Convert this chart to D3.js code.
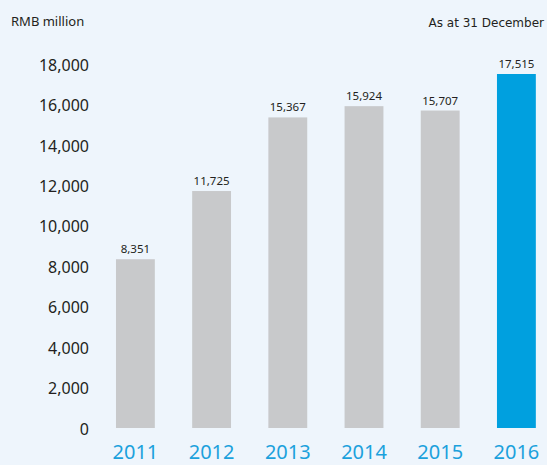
<!DOCTYPE html>
<html>
<head>
<meta charset="utf-8">
<script src="https://cdn.jsdelivr.net/npm/d3@7"></script>
<style>
  html, body { margin: 0; padding: 0; background: #eef5fc; }
  svg { display: block; }
</style>
</head>
<body>
<div id="chart"></div>
<script>
// data
const years = ["2011", "2012", "2013", "2014", "2015", "2016"];
const values = [8351, 11725, 15367, 15924, 15707, 17515];
const yTicks = [0, 2000, 4000, 6000, 8000, 10000, 12000, 14000, 16000, 18000];

const W = 547, H = 465;
const svg = d3.select("#chart").append("svg")
    .attr("width", W)
    .attr("height", H);

svg.append("rect")
    .attr("width", W).attr("height", H)
    .attr("fill", "#eef5fc");

const x = d3.scaleBand()
    .domain(years)
    .range([97.3, 554.5])
    .paddingInner(0.49)
    .paddingOuter(0.245);

const y = d3.scaleLinear()
    .domain([0, 18000])
    .range([428, 64.2]);

const fmt = d3.format(",");

// y axis (labels only)
const yAxis = svg.append("g")
    .attr("transform", "translate(89,0)")
    .call(d3.axisLeft(y).tickValues(yTicks).tickFormat(fmt).tickSize(0).tickPadding(0));
yAxis.select(".domain").remove();
yAxis.selectAll("text")
    .attr("font-family", "'Noto Sans', sans-serif")
    .attr("font-size", 16)
    .attr("fill", "#231f20")
    .attr("dy", "0.38em");

// bars
svg.selectAll(".bar")
    .data(values)
    .join("rect")
    .attr("class", "bar")
    .attr("x", (d, i) => x(years[i]))
    .attr("y", d => y(d))
    .attr("width", x.bandwidth())
    .attr("height", d => y(0) - y(d))
    .attr("fill", (d, i) => i === years.length - 1 ? "#00a0df" : "#c8c9cb");

// value labels
svg.selectAll(".val")
    .data(values)
    .join("text")
    .attr("class", "val")
    .attr("x", (d, i) => x(years[i]) + x.bandwidth() / 2)
    .attr("y", d => y(d) - 6)
    .attr("text-anchor", "middle")
    .attr("font-family", "'Noto Sans', sans-serif")
    .attr("font-size", 11.5)
    .attr("fill", "#231f20")
    .text(d => fmt(d));

// x axis (year labels)
const xAxis = svg.append("g")
    .attr("transform", "translate(0,440)")
    .call(d3.axisBottom(x).tickSize(0).tickPadding(0));
xAxis.select(".domain").remove();
xAxis.selectAll("text")
    .attr("font-family", "'Noto Sans', sans-serif")
    .attr("font-size", 20)
    .attr("fill", "#1ba1dc")
    .attr("dy", "0.95em");

// captions
svg.append("text")
    .attr("x", 11).attr("y", 26)
    .attr("font-family", "'Noto Sans', sans-serif")
    .attr("font-size", 13)
    .attr("fill", "#231f20")
    .text("RMB million");

svg.append("text")
    .attr("x", 544).attr("y", 27)
    .attr("text-anchor", "end")
    .attr("font-family", "'DejaVu Sans', sans-serif")
    .attr("font-size", 12)
    .attr("fill", "#231f20")
    .text("As at 31 December");
</script>
</body>
</html>
